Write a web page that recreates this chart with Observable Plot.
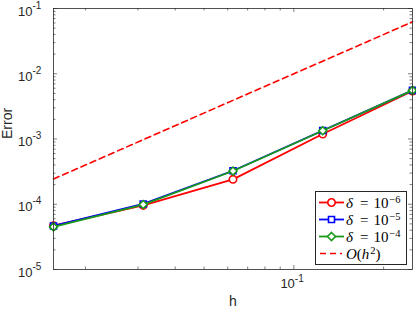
<!DOCTYPE html>
<html>
<head>
<meta charset="utf-8">
<script src="https://cdn.jsdelivr.net/npm/d3@7"></script>
<script src="https://cdn.jsdelivr.net/npm/@observablehq/plot@0.6"></script>
<style>
  html, body { margin: 0; padding: 0; background: #fff; }
  #wrap { position: relative; width: 416px; height: 312px; font-family: "Liberation Sans", Arial, sans-serif; }
  #legend { position: absolute; left: 315px; top: 191px; width: 90px; height: 72px; border: 1px solid #262626; background: #fff;
            font-family: "Liberation Serif", "DejaVu Serif", serif; font-size: 15px; color: #000; }
  .row { position: absolute; left: 0; height: 17px; display: flex; align-items: center; }
  .row svg { display: block; }
  .row span.lab { margin-left: 1px; white-space: nowrap; line-height: 14px; }
  .row sup { font-size: 10.5px; line-height: 10px; vertical-align: 5px; margin-left: 1px; }
  .eq { margin: 0 5px 0 7px; }
</style>
</head>
<body>
<div id="wrap"></div>
<script>
// ---- data ----
const h = [1/64, 1/32, 1/16, 1/8, 1/4];
const err6 = [4.7e-5, 9.6e-5, 2.41e-4, 1.19e-3, 5.45e-3];   // delta = 1e-6
const err5 = [4.65e-5, 1.01e-4, 3.26e-4, 1.35e-3, 5.55e-3]; // delta = 1e-5
const err4 = [4.5e-5, 9.9e-5, 3.23e-4, 1.34e-3, 5.55e-3];   // delta = 1e-4
const ref2 = [2.44e-4, 9.77e-4, 3.91e-3, 1.56e-2, 6.25e-2]; // O(h^2)

const seriesNames = ["δ = 10^-6", "δ = 10^-5", "δ = 10^-4", "O(h^2)"];
const xMajor = [0.1];
const xMinor = [0.02, 0.03, 0.04, 0.05, 0.06, 0.07, 0.08, 0.09, 0.2];
const yMajor = [1e-5, 1e-4, 1e-3, 1e-2, 1e-1];
const yMinor = [2,3,4,5,6,7,8,9].flatMap(k => [1e-5, 1e-4, 1e-3, 1e-2].map(p => k * p));

// ---- layout ----
const W = 416, H = 312, mL = 53, mR = 4, mT = 8, mB = 43;
const iw = W - mL - mR, ih = H - mT - mB;
const axisC = "#262626";
const red = "#ff0000", blue = "#0000ff", green = "#1a9a1a";

const S = (ys) => h.map((x, i) => ({x, y: ys[i]}));
const d6 = S(err6), d5 = S(err5), d4 = S(err4), dr = S(ref2);

const tk = (len) => ({
  bottom: {insetTop: ih - len}, top: {insetBottom: ih - len},
  left: {insetRight: iw - len}, right: {insetLeft: iw - len}
});
const Mj = tk(4), Mn = tk(2.5);

const chart = Plot.plot({
  width: W, height: H,
  marginLeft: mL, marginRight: mR, marginTop: mT, marginBottom: mB,
  x: {type: "log", domain: [1/64, 1/4], axis: null},
  y: {type: "log", domain: [1e-5, 1e-1], axis: null},
  style: {fontFamily: "'Liberation Sans', Arial, sans-serif", background: "#fff"},
  marks: [
    // ticks (inward, all four sides)
    Plot.tickX(xMajor, {x: d => d, stroke: axisC, strokeWidth: 0.6, ...Mj.bottom}),
    Plot.tickX(xMajor, {x: d => d, stroke: axisC, strokeWidth: 0.6, ...Mj.top}),
    Plot.tickX(xMinor, {x: d => d, stroke: axisC, strokeWidth: 0.6, ...Mn.bottom}),
    Plot.tickX(xMinor, {x: d => d, stroke: axisC, strokeWidth: 0.6, ...Mn.top}),
    Plot.tickY(yMajor, {y: d => d, stroke: axisC, strokeWidth: 0.6, ...Mj.left}),
    Plot.tickY(yMajor, {y: d => d, stroke: axisC, strokeWidth: 0.6, ...Mj.right}),
    Plot.tickY(yMinor, {y: d => d, stroke: axisC, strokeWidth: 0.6, ...Mn.left}),
    Plot.tickY(yMinor, {y: d => d, stroke: axisC, strokeWidth: 0.6, ...Mn.right}),
    // tick labels
    Plot.text(yMajor, {y: d => d, frameAnchor: "left", text: () => "10", textAnchor: "end", dx: -21, dy: 3, fontSize: 13, fill: axisC}),
    Plot.text(yMajor, {y: d => d, frameAnchor: "left", text: d => String(Math.round(Math.log10(d))), textAnchor: "start", dx: -21, dy: -3, fontSize: 10, fill: axisC}),
    Plot.text(xMajor, {x: d => d, frameAnchor: "bottom", text: () => "10", textAnchor: "end", dx: 1, dy: 18, fontSize: 13, fill: axisC}),
    Plot.text(xMajor, {x: d => d, frameAnchor: "bottom", text: d => String(Math.round(Math.log10(d))), textAnchor: "start", dx: 1, dy: 12, fontSize: 10, fill: axisC}),
    // axis titles
    Plot.text(["Error"], {frameAnchor: "left", text: d => d, dx: -46, rotate: -90, fontSize: 14, fill: axisC}),
    Plot.text(["h"], {frameAnchor: "bottom", text: d => d, dy: 36, fontSize: 14, fill: axisC}),
    // data
    Plot.line(dr, {x: "x", y: "y", stroke: red, strokeWidth: 1.6, strokeDasharray: "6,4"}),
    Plot.line(d6, {x: "x", y: "y", stroke: red, strokeWidth: 1.8}),
    Plot.dot(d6, {x: "x", y: "y", symbol: "circle", r: 3.7, stroke: red, fill: "#fff", strokeWidth: 1.6}),
    Plot.line(d5, {x: "x", y: "y", stroke: blue, strokeWidth: 1.8}),
    Plot.dot(d5, {x: "x", y: "y", symbol: "square", r: 3.4, stroke: blue, fill: "#fff", strokeWidth: 1.6}),
    Plot.line(d4, {x: "x", y: "y", stroke: green, strokeWidth: 1.8}),
    Plot.dot(d4, {x: "x", y: "y", symbol: "diamond2", r: 3.6, stroke: green, fill: "#fff", strokeWidth: 1.6}),
    Plot.frame({stroke: axisC, strokeWidth: 0.8})
  ]
});

const wrap = document.getElementById("wrap");
wrap.appendChild(chart);

// legend (inside the axes, lower right)
const legendItems = [
  {name: seriesNames[0], color: red, symbol: "circle", dash: null},
  {name: seriesNames[1], color: blue, symbol: "square", dash: null},
  {name: seriesNames[2], color: green, symbol: "diamond", dash: null},
  {name: seriesNames[3], color: red, symbol: null, dash: "6,4"}
];
const lg = document.createElement("div");
lg.id = "legend";
const symPath = {
  circle: "M3.7,0A3.7,3.7,0,1,1,-3.7,0A3.7,3.7,0,1,1,3.7,0Z",
  square: "M-3,-3h6v6h-6Z",
  diamond: "M0,-4L4,0L0,4L-4,0Z"
};
function labelHTML(name) {
  if (name.startsWith("δ")) {
    const e = name.split("^")[1];
    return `<i>δ</i><span class="eq">=</span>10<sup>${e.replace("-", "−")}</sup>`;
  }
  return `<i>O</i>(<i>h</i><sup>2</sup>)`;
}
legendItems.forEach((it, i) => {
  const row = document.createElement("div");
  row.className = "row";
  row.style.top = (1.5 + i * 17) + "px";
  const ns = "http://www.w3.org/2000/svg";
  const svg = document.createElementNS(ns, "svg");
  svg.setAttribute("width", 29); svg.setAttribute("height", 17);
  const ln = document.createElementNS(ns, "line");
  ln.setAttribute("x1", 3); ln.setAttribute("x2", 28); ln.setAttribute("y1", 8.5); ln.setAttribute("y2", 8.5);
  ln.setAttribute("stroke", it.color); ln.setAttribute("stroke-width", it.dash ? 1.6 : 1.8);
  if (it.dash) { ln.setAttribute("stroke-dasharray", it.dash); ln.setAttribute("x1", 4); ln.setAttribute("x2", 26); }
  svg.appendChild(ln);
  if (it.symbol) {
    const p = document.createElementNS(ns, "path");
    p.setAttribute("d", symPath[it.symbol]);
    p.setAttribute("transform", "translate(15.5,8.5)");
    p.setAttribute("fill", "#fff"); p.setAttribute("stroke", it.color); p.setAttribute("stroke-width", 1.6);
    svg.appendChild(p);
  }
  row.appendChild(svg);
  const sp = document.createElement("span");
  sp.className = "lab";
  sp.innerHTML = labelHTML(it.name);
  row.appendChild(sp);
  lg.appendChild(row);
});
wrap.appendChild(lg);
</script>
</body>
</html>
